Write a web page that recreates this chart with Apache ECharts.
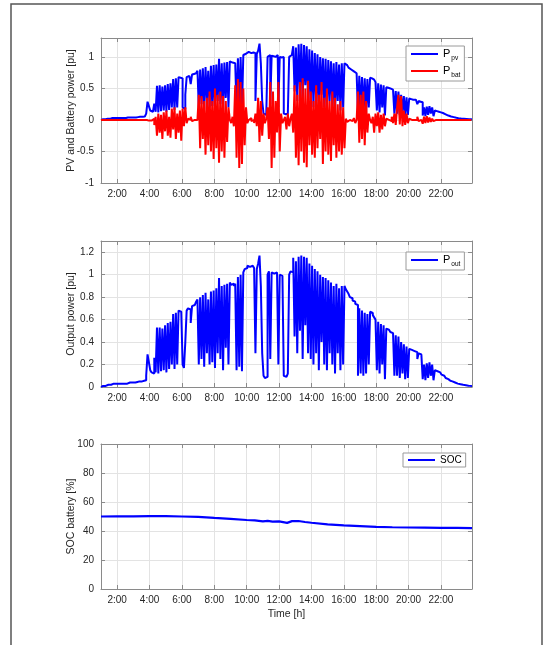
<!DOCTYPE html>
<html>
<head>
<meta charset="utf-8">
<script src="https://cdn.jsdelivr.net/npm/echarts@6/dist/echarts.min.js"></script>
<style>
  html, body { margin: 0; padding: 0; background: #fff; }
  #chart { width: 546px; height: 645px; }
</style>
</head>
<body>
<div id="chart"></div>
<script>
// samples every 5 minutes starting at 1:00 (one row = one hour)
const startHour = 1;
const stepMinutes = 5;
const hourTicks = [2, 4, 6, 8, 10, 12, 14, 16, 18, 20, 22];
const powerTicks = [-1, -0.5, 0, 0.5, 1];
const outputTicks = [0, 0.2, 0.4, 0.6, 0.8, 1, 1.2];
const socTicks = [0, 20, 40, 60, 80, 100];

const ppv = [
  0.00, 0.00, 0.01, 0.01, 0.01, 0.02, 0.02, 0.02, 0.02, 0.03, 0.03, 0.03,
  0.03, 0.03, 0.03, 0.03, 0.03, 0.03, 0.03, 0.03, 0.04, 0.04, 0.04, 0.04,
  0.04, 0.04, 0.04, 0.045, 0.045, 0.05, 0.05, 0.05, 0.055, 0.06, 0.1, 0.29,
  0.22, 0.15, 0.13, 0.12, 0.26, 0.13, 0.54, 0.12, 0.55, 0.14, 0.53, 0.15,
  0.55, 0.13, 0.57, 0.16, 0.58, 0.2, 0.65, 0.16, 0.66, 0.2, 0.68, 0.67,
  0.66, 0.2, 0.17, 0.4, 0.68, 0.7, 0.69, 0.57, 0.72, 0.73, 0.74, 0.76,
  0.78, 0.2, 0.8, 0.25, 0.82, 0.18, 0.84, 0.3, 0.78, 0.2, 0.86, 0.22,
  0.87, 0.17, 0.88, 0.3, 0.97, 0.25, 0.9, 0.15, 0.91, 0.35, 0.92, 0.2,
  0.93, 0.91, 0.92, 0.9, 0.93, 0.15, 0.98, 0.18, 1.0, 0.14, 1.03, 1.05,
  1.06, 1.08, 1.07, 1.06, 1.08, 1.07, 1.06, 0.3, 1.05, 1.1, 1.21, 0.9,
  0.3, 0.1, 0.08, 0.09, 1.0, 1.03, 0.25, 1.02, 1.01, 1.0, 1.02, 1.03,
  0.2, 1.0, 0.99, 1.0, 0.1, 0.09, 0.1, 0.12, 1.0, 1.03, 1.02, 1.17,
  0.45, 1.15, 0.3, 1.2, 0.5, 1.21, 0.25, 1.19, 0.55, 1.17, 0.3, 1.12,
  0.25, 1.1, 0.2, 1.06, 0.3, 1.04, 0.15, 1.0, 0.4, 0.98, 0.2, 0.97,
  0.15, 0.95, 0.3, 0.93, 0.2, 0.9, 0.12, 0.92, 0.3, 0.88, 0.15, 0.9,
  0.2, 0.9, 0.87, 0.85, 0.83, 0.8, 0.79, 0.77, 0.76, 0.74, 0.73, 0.1,
  0.7, 0.12, 0.68, 0.1, 0.66, 0.12, 0.65, 0.2, 0.67, 0.66, 0.64, 0.62,
  0.6, 0.15, 0.58, 0.12, 0.56, 0.2, 0.55, 0.07, 0.52, 0.51, 0.5, 0.49,
  0.48, 0.47, 0.1, 0.46, 0.1, 0.45, 0.08, 0.4, 0.12, 0.38, 0.07, 0.36,
  0.08, 0.34, 0.33, 0.33, 0.32, 0.32, 0.31, 0.25, 0.3, 0.29, 0.28, 0.07,
  0.2, 0.06, 0.21, 0.08, 0.22, 0.1, 0.2, 0.06, 0.15, 0.14, 0.14, 0.13,
  0.12, 0.11, 0.1, 0.09, 0.08, 0.07, 0.06, 0.055, 0.05, 0.045, 0.04, 0.035,
  0.03, 0.028, 0.025, 0.022, 0.02, 0.018, 0.016, 0.014, 0.012, 0.01, 0.01, 0.01
];

const pbat = [
  0, 0, 0, 0, 0, 0, 0, 0, 0, 0, 0, 0,
  0, 0, 0, 0, 0, 0, 0, 0, 0, 0, 0, 0,
  0, 0, 0, 0, 0, 0, 0, 0, 0, 0, 0, -0.01,
  0, -0.01, 0, 0.02, -0.08, 0.05, -0.25, 0.1, -0.2, 0.08, -0.3, 0.12,
  -0.18, 0.15, -0.25, 0.05, -0.28, 0.18, -0.15, 0.2, -0.3, 0.1, -0.2, 0.15,
  -0.33, 0.18, -0.1, 0.2, -0.05, 0.02, 0, 0.05, -0.02, 0, 0.01, 0,
  0, 0.4, -0.45, 0.38, -0.3, 0.3, -0.55, 0.35, -0.4, 0.45, -0.5, 0.3,
  -0.62, 0.5, -0.45, 0.4, -0.68, 0.45, -0.5, 0.38, -0.6, 0.3, -0.35, 0.2,
  0, -0.05, 0.05, -0.1, 0.55, -0.6, 0.65, -0.76, 0.6, -0.7, 0.5, -0.4,
  0.2, -0.05, 0, 0.03, -0.02, 0, -0.05, 0.1, -0.1, 0.35, -0.35, 0.3,
  -0.25, 0.1, -0.05, 0.02, 0.2, -0.3, 0.6, -0.76, 0.45, -0.6, 0.3, -0.2,
  0.6, -0.5, 0.1, -0.05, 0, 0.05, -0.15, 0.1, -0.1, 0.02, 0.1, -0.2,
  0.55, -0.6, 0.4, -0.72, 0.6, -0.5, 0.66, -0.68, 0.5, -0.75, 0.62, -0.4,
  0.45, -0.55, 0.3, -0.6, 0.55, -0.45, 0.4, -0.3, 0.6, -0.7, 0.35, -0.5,
  0.5, -0.55, 0.3, -0.65, 0.45, -0.4, 0.35, -0.6, 0.25, -0.5, 0.3, -0.55,
  0.2, -0.45, 0.02, -0.03, 0, 0.02, -0.02, 0, 0.03, -0.05, 0, 0.45,
  -0.36, 0.4, -0.3, 0.45, -0.4, 0.3, -0.2, 0.1, 0, -0.05, 0.05, -0.2,
  0.1, -0.1, 0.12, -0.2, 0.08, -0.15, 0.1, -0.1, 0.02, 0, 0.03, -0.02,
  0.05, -0.05, 0.1, -0.08, 0.2, 0.4, -0.07, 0.38, -0.1, 0.15, -0.08, 0.1,
  -0.05, 0.02, 0, -0.02, 0, 0.02, 0, 0.05, -0.02, 0, 0.03, -0.06,
  0.05, -0.05, 0.06, -0.04, 0.04, -0.03, 0.02, -0.02, 0, 0, 0, 0,
  0, 0, 0, 0, 0, 0, 0, 0, 0, 0, 0, 0,
  0, 0, 0, 0, 0, 0, 0, 0, 0, 0, 0, 0
];

const pout = [
  0.00, 0.00, 0.01, 0.01, 0.01, 0.02, 0.02, 0.02, 0.02, 0.03, 0.03, 0.03,
  0.03, 0.03, 0.03, 0.03, 0.03, 0.03, 0.03, 0.03, 0.04, 0.04, 0.04, 0.04,
  0.04, 0.04, 0.04, 0.045, 0.045, 0.05, 0.05, 0.05, 0.055, 0.06, 0.1, 0.29,
  0.22, 0.15, 0.13, 0.12, 0.26, 0.13, 0.53, 0.12, 0.53, 0.14, 0.52, 0.15,
  0.55, 0.13, 0.57, 0.16, 0.58, 0.2, 0.65, 0.16, 0.66, 0.2, 0.68, 0.67,
  0.66, 0.2, 0.17, 0.4, 0.68, 0.7, 0.69, 0.57, 0.72, 0.73, 0.74, 0.76,
  0.78, 0.2, 0.8, 0.25, 0.82, 0.18, 0.84, 0.3, 0.78, 0.2, 0.85, 0.22,
  0.86, 0.17, 0.88, 0.3, 0.97, 0.25, 0.9, 0.15, 0.91, 0.35, 0.92, 0.2,
  0.93, 0.91, 0.92, 0.9, 0.92, 0.15, 0.98, 0.18, 1.0, 0.14, 1.02, 1.05,
  1.06, 1.08, 1.07, 1.06, 1.08, 1.07, 1.06, 0.3, 1.05, 1.1, 1.17, 0.9,
  0.3, 0.1, 0.08, 0.09, 1.0, 1.03, 0.25, 1.02, 1.01, 1.0, 1.02, 1.03,
  0.2, 1.0, 0.99, 1.0, 0.1, 0.09, 0.1, 0.12, 1.0, 1.03, 1.02, 1.15,
  0.45, 1.12, 0.3, 1.16, 0.5, 1.17, 0.25, 1.16, 0.55, 1.15, 0.3, 1.1,
  0.25, 1.08, 0.2, 1.05, 0.3, 1.03, 0.15, 1.0, 0.4, 0.98, 0.2, 0.97,
  0.15, 0.95, 0.3, 0.93, 0.2, 0.9, 0.12, 0.92, 0.3, 0.88, 0.15, 0.9,
  0.2, 0.9, 0.87, 0.85, 0.83, 0.8, 0.79, 0.77, 0.76, 0.74, 0.73, 0.1,
  0.7, 0.12, 0.68, 0.1, 0.66, 0.12, 0.65, 0.2, 0.67, 0.66, 0.64, 0.62,
  0.6, 0.15, 0.58, 0.12, 0.56, 0.2, 0.55, 0.07, 0.52, 0.51, 0.5, 0.49,
  0.48, 0.47, 0.1, 0.46, 0.1, 0.45, 0.08, 0.4, 0.12, 0.38, 0.07, 0.36,
  0.08, 0.34, 0.33, 0.33, 0.32, 0.32, 0.31, 0.25, 0.3, 0.29, 0.28, 0.07,
  0.2, 0.06, 0.21, 0.08, 0.22, 0.1, 0.2, 0.06, 0.15, 0.14, 0.14, 0.13,
  0.12, 0.11, 0.1, 0.09, 0.08, 0.07, 0.06, 0.055, 0.05, 0.045, 0.04, 0.035,
  0.03, 0.028, 0.025, 0.022, 0.02, 0.018, 0.016, 0.014, 0.012, 0.01, 0.01, 0.01
];

const socHours = [1, 2, 3, 4, 5, 6, 7, 7.5, 8, 9, 10, 10.5, 11, 11.3, 11.6, 12, 12.5, 12.8, 13.2, 13.6, 14, 15, 16, 17, 18, 19, 20, 21, 22, 23, 23.92];
const socValues = [50.0, 50.1, 50.1, 50.2, 50.2, 50.0, 49.8, 49.4, 49.0, 48.3, 47.6, 47.3, 46.6, 47.0, 46.5, 46.6, 45.6, 46.8, 46.9, 46.2, 45.7, 44.6, 43.9, 43.4, 42.9, 42.6, 42.4, 42.3, 42.2, 42.1, 42.0];

const times = ppv.map((_, i) => startHour + (i * stepMinutes) / 60);
const withTime = (values) => values.map((v, i) => [times[i], v]);

const textColor = '#262626';
const boxColor = '#8a8a8a';
const gridColor = '#e3e3e3';
const font = 'Liberation Sans, Arial, Helvetica, sans-serif';

const grids = [
  { left: 101, top: 38, width: 371, height: 145 },
  { left: 101, top: 241, width: 371, height: 146 },
  { left: 101, top: 444, width: 371, height: 145 },
];

function timeAxis(gridIndex, withName) {
  return {
    type: 'value',
    gridIndex,
    min: startHour,
    max: 23.92,
    axisLine: { show: true, onZero: false, lineStyle: { color: boxColor, width: 1 } },
    axisTick: { show: true, inside: true, length: 4, customValues: hourTicks, lineStyle: { color: boxColor } },
    axisLabel: {
      customValues: hourTicks,
      formatter: (v) => `${v}:00`,
      color: textColor, fontSize: 10, fontFamily: font, margin: 6,
    },
    splitLine: { show: true, lineStyle: { color: gridColor, width: 1 } },
    name: withName ? 'Time [h]' : '',
    nameLocation: 'middle',
    nameGap: 20,
    nameMoveOverlap: false,
    nameTextStyle: { color: textColor, fontSize: 10.5, fontFamily: font },
  };
}

function topAxis(gridIndex) {
  return {
    type: 'value', gridIndex, position: 'top', min: startHour, max: 23.92,
    axisLine: { show: true, onZero: false, lineStyle: { color: boxColor, width: 1 } },
    axisTick: { show: true, inside: true, length: 4, customValues: hourTicks, lineStyle: { color: boxColor } },
    axisLabel: { show: false },
    splitLine: { show: false },
  };
}

function valueAxis(gridIndex, min, max, ticks, name) {
  return {
    type: 'value', gridIndex, min, max,
    axisLine: { show: true, onZero: false, lineStyle: { color: boxColor, width: 1 } },
    axisTick: { show: true, inside: true, length: 4, customValues: ticks, lineStyle: { color: boxColor } },
    axisLabel: { customValues: ticks, color: textColor, fontSize: 10, fontFamily: font, margin: 7 },
    splitLine: { show: true, lineStyle: { color: gridColor, width: 1 } },
    name,
    nameLocation: 'middle',
    nameGap: 24,
    nameMoveOverlap: false,
    nameTextStyle: { color: textColor, fontSize: 10.5, fontFamily: font },
  };
}

function rightAxis(gridIndex, min, max, ticks) {
  return {
    type: 'value', gridIndex, position: 'right', min, max,
    axisLine: { show: true, onZero: false, lineStyle: { color: boxColor, width: 1 } },
    axisTick: { show: true, inside: true, length: 4, customValues: ticks, lineStyle: { color: boxColor } },
    axisLabel: { show: false },
    splitLine: { show: false },
  };
}

const legendText = {
  color: '#000', fontSize: 10, fontFamily: font,
  rich: {
    p: { fontSize: 11, fontFamily: font, color: '#000', verticalAlign: 'top', lineHeight: 12 },
    s: { fontSize: 6.5, fontFamily: font, color: '#000', verticalAlign: 'top', lineHeight: 7, padding: [7, 0, 0, 1] },
  },
};

function legendBox(data, left, top) {
  return {
    data,
    orient: 'vertical',
    left, top,
    icon: 'rect',
    itemWidth: 27,
    itemHeight: 2,
    itemGap: 3,
    padding: [2, 4, 2, 5],
    borderColor: '#9a9a9a',
    borderWidth: 1,
    backgroundColor: '#fff',
    selectedMode: false,
    textStyle: legendText,
    formatter: (name) => {
      if (name === 'SOC') return 'SOC';
      return `{p|P}{s|${name.split('_')[1]}}`;
    },
  };
}

// power signals are sampled data: draw them as held steps so the switching looks dense
const lineSeries = (name, xi, yi, data, color, width, step) => ({
  name, type: 'line', xAxisIndex: xi, yAxisIndex: yi, data,
  step: step || false,
  showSymbol: false, symbol: 'none', animation: false,
  lineStyle: { color, width }, itemStyle: { color },
});

const chart = echarts.init(document.getElementById('chart'), null, { renderer: 'canvas' });

chart.setOption({
  backgroundColor: '#fff',
  animation: false,
  grid: grids,
  xAxis: [timeAxis(0, false), timeAxis(1, false), timeAxis(2, true), topAxis(0), topAxis(1), topAxis(2)],
  yAxis: [
    valueAxis(0, -1, 1.3, powerTicks, 'PV and Battery power [pu]'),
    valueAxis(1, 0, 1.3, outputTicks, 'Output power [pu]'),
    valueAxis(2, 0, 100, socTicks, 'SOC battery [%]'),
    rightAxis(0, -1, 1.3, powerTicks),
    rightAxis(1, 0, 1.3, outputTicks),
    rightAxis(2, 0, 100, socTicks),
  ],
  legend: [
    legendBox(['P_pv', 'P_bat'], 406, 46),
    legendBox(['P_out'], 406, 252),
    legendBox(['SOC'], 403, 453),
  ],
  graphic: [{
    type: 'rect',
    shape: { x: 11, y: 4, width: 531, height: 700 },
    style: { fill: 'none', stroke: '#555', lineWidth: 1.5 },
    silent: true,
  }],
  series: [
    lineSeries('P_pv', 0, 0, withTime(ppv), '#0000ff', 2, 'middle'),
    lineSeries('P_bat', 0, 0, withTime(pbat), '#ff0000', 2, 'middle'),
    lineSeries('P_out', 1, 1, withTime(pout), '#0000ff', 2, 'middle'),
    lineSeries('SOC', 2, 2, socHours.map((h, i) => [h, socValues[i]]), '#0000ff', 2.2),
  ],
});
</script>
</body>
</html>
